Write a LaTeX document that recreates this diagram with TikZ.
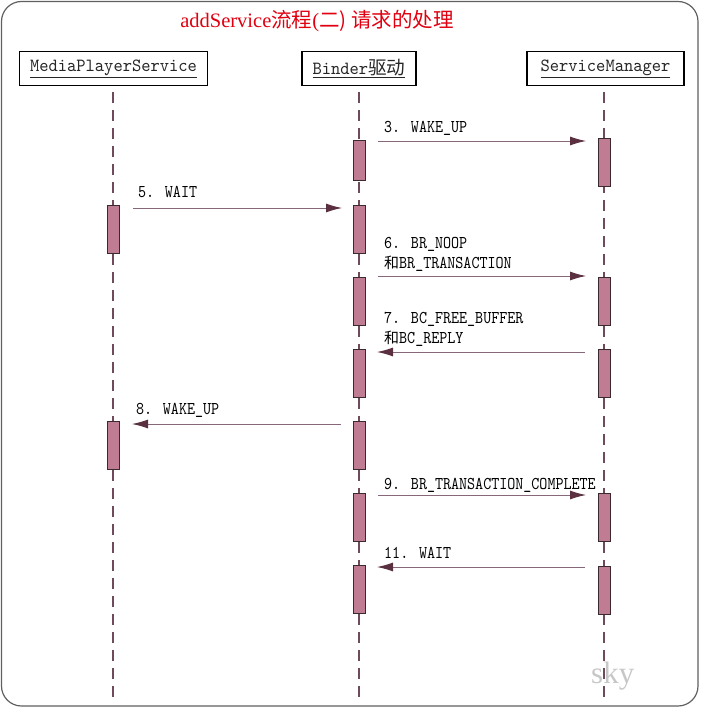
\documentclass[tikz,border=0pt]{standalone}
\usepackage{fontspec}
\newfontfamily\cjk{Noto Sans CJK SC}
\newfontfamily\serifL{Liberation Serif}
\newfontfamily\lblfont[FakeStretch=0.85]{lmmono10-regular.otf}
\newfontfamily\hdrfont[FakeStretch=0.95]{lmmono10-regular.otf}
\usetikzlibrary{arrows.meta}
\definecolor{barfill}{HTML}{C07C92}
\definecolor{bardraw}{HTML}{3A2A30}
\definecolor{lifecol}{HTML}{6E4A5A}
\definecolor{msgcol}{HTML}{86687A}
\definecolor{headcol}{HTML}{5A3040}
\definecolor{titlered}{HTML}{E00010}
\definecolor{framecol}{HTML}{606060}
\tikzset{
  x=1pt, y=-1pt,
  hdr/.style={draw=black, line width=1.6pt, inner sep=0pt, minimum height=34pt, font=\fontsize{18.6}{19}\selectfont\hdrfont, text=black!85},
  actbar/.style={draw=bardraw, line width=0.9pt, fill=barfill, minimum width=12pt, minimum height=48pt, inner sep=0pt},
  lifeline/.style={draw=lifecol, line width=1.3pt, dash pattern=on 11pt off 7pt},
  msg/.style={draw=msgcol, line width=0.9pt, -{Latex[length=16pt,width=9pt,color=headcol]}},
  lbl/.style={anchor=base west, inner sep=0pt, font=\fontsize{18}{19.5}\selectfont\lblfont, text=black, align=left},
}
\newcommand{\ul}[1]{\underline{#1}}
\begin{document}
\begin{tikzpicture}
\useasboundingbox (0,0) rectangle (700,708);
\draw[framecol, line width=1.2pt, rounded corners=20pt] (1.5,1.5) rectangle (698,706);

\node[anchor=base, text=titlered, font=\fontsize{20.5}{22}\selectfont\serifL] (title) at (317,28) {addService{\cjk 流程}(\cjk 二) {\cjk 请求的处理}};

% headers
\node[hdr, minimum width=188pt] (mps) at (113.5,68.5) {\ul{MediaPlayerService}};
\node[hdr, minimum width=114pt] (bnd) at (359,68.5) {\ul{Binder{\cjk 驱动}}};
\node[hdr, minimum width=157pt] (sm) at (605.5,68.5) {\ul{ServiceManager}};

\coordinate (mpsE) at (113,701);
\coordinate (bndE) at (359,701);
\coordinate (smE) at (604,701);
\draw[lifeline] ([yshift=-6pt]mps.south -| mpsE) -- (mpsE);
\draw[lifeline] ([yshift=-6pt]bnd.south -| bndE) -- (bndE);
\draw[lifeline] ([yshift=-6pt]sm.south -| smE) -- (smE);

% activation bars
\node[actbar, minimum height=40pt] (b1) at (359,160) {};
\node[actbar] (b2) at (359,229) {};
\node[actbar] (b3) at (359,301) {};
\node[actbar] (b4) at (359,373) {};
\node[actbar] (b5) at (359,445) {};
\node[actbar] (b6) at (359,517) {};
\node[actbar] (b7) at (359,589) {};

\node[actbar] (s1) at (604,162) {};
\node[actbar] (s2) at (604,301) {};
\node[actbar] (s3) at (604,373) {};
\node[actbar] (s4) at (604,517) {};
\node[actbar] (s5) at (604,590) {};

\node[actbar] (m1) at (113,229) {};
\node[actbar] (m2) at (113,445) {};

% message end points
\coordinate (a3s) at (378,141);  \coordinate (a3e) at (586,141);
\coordinate (a5s) at (133,208);  \coordinate (a5e) at (342,208);
\coordinate (a6s) at (378,276);  \coordinate (a6e) at (586,276);
\coordinate (a7s) at (585,352);  \coordinate (a7e) at (377,352);
\coordinate (a8s) at (341,424);  \coordinate (a8e) at (132,424);
\coordinate (a9s) at (378,495);  \coordinate (a9e) at (586,495);
\coordinate (a11s) at (585,567); \coordinate (a11e) at (377,567);

\draw[msg] (a3s) -- (a3e);
\draw[msg] (a5s) -- (a5e);
\draw[msg] (a6s) -- (a6e);
\draw[msg] (a7s) -- (a7e);
\draw[msg] (a8s) -- (a8e);
\draw[msg] (a9s) -- (a9e);
\draw[msg] (a11s) -- (a11e);

% labels
\node[lbl] (l3) at (384,133) {3. WAKE\_UP};
\node[lbl] (l5) at (138,198) {5. WAIT};
\node[lbl] (l6) at (384,268) {6. BR\_NOOP\\{\cjk\fontsize{15}{19.5}\selectfont 和}BR\_TRANSACTION};
\node[lbl] (l7) at (384,343) {7. BC\_FREE\_BUFFER\\{\cjk\fontsize{15}{19.5}\selectfont 和}BC\_REPLY};
\node[lbl] (l8) at (136,414) {8. WAKE\_UP};
\node[lbl] (l9) at (384,489) {9. BR\_TRANSACTION\_COMPLETE};
\node[lbl] (l11) at (384,558) {11. WAIT};

\node[anchor=base west, inner sep=0pt, text=black!22, font=\fontsize{31}{32}\selectfont\serifL] (sky) at (591,683) {sky};
\end{tikzpicture}
\end{document}
